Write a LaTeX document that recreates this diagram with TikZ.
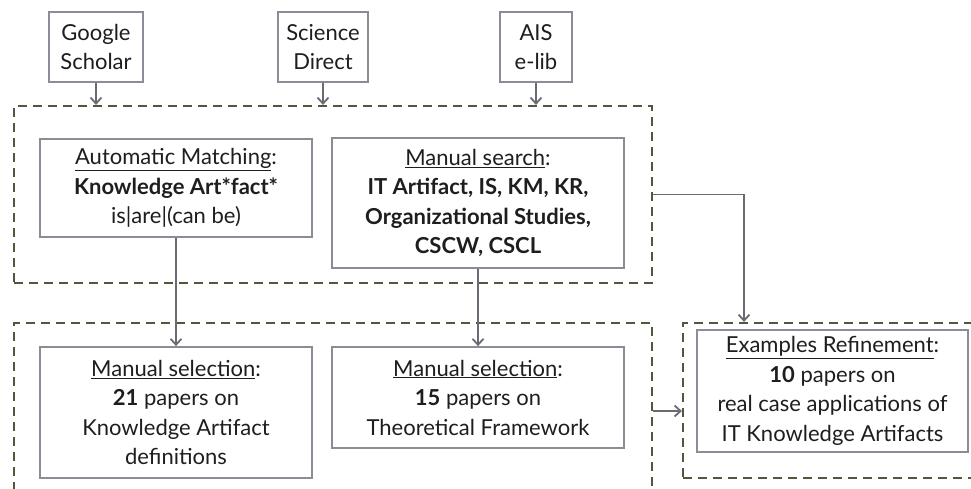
\documentclass[tikz,border=0pt]{standalone}
\usepackage{fontspec}
\setmainfont{Lato}
\usetikzlibrary{arrows.meta}
\definecolor{boxgray}{HTML}{8C8C96}
\definecolor{arrgray}{HTML}{6A6A72}
\definecolor{olive}{HTML}{4B5A3C}
\definecolor{txt}{HTML}{1E1E1E}
\tikzset{
  box/.style={draw=boxgray, line width=1.8pt, fill=white, align=center, text=txt, inner sep=2pt,
    font=\fontsize{22}{29.5}\selectfont},
  grp/.style={draw=olive, line width=2.2pt, dash pattern=on 9pt off 6pt, inner sep=0pt},
  arr/.style={draw=arrgray, line width=1.8pt, -{Straight Barb[length=6pt,width=11pt,line width=1.8pt]}},
  conn/.style={draw=arrgray, line width=1.8pt}
}
\begin{document}
\begin{tikzpicture}[x=1pt,y=-1pt]
\useasboundingbox (0,0) rectangle (971,488);
\clip (0,0) rectangle (971,488);
\fill[white] (0,0) rectangle (971,488);
% groups
\node[grp, minimum width=638pt, minimum height=177pt] (topgrp) at (333,194.5) {};
\node[grp, minimum width=638pt, minimum height=200pt] (botgrp) at (333,423) {};
\node[grp, minimum width=300pt, minimum height=155pt] (rightgrp) at (833,400.5) {};
% sources
\node[box, minimum width=94pt, minimum height=70pt] (gs) at (96,47) {Google\\Scholar};
\node[box, minimum width=90pt, minimum height=70pt] (sd) at (323,47) {Science\\Direct};
\node[box, minimum width=72pt, minimum height=70pt] (ais) at (536,47) {AIS\\e-lib};
% inner boxes
\node[box, minimum width=272pt, minimum height=98pt] (am) at (176,188)
  {\underline{Automatic Matching}:\\\textbf{Knowledge Art*fact*}\\is|are|(can be)};
\node[box, minimum width=292pt, minimum height=130pt] (ms) at (478,203)
  {\underline{Manual search}:\\\textbf{IT Artifact, IS, KM, KR,}\\\textbf{Organizational Studies,}\\\textbf{CSCW, CSCL}};
\node[box, minimum width=272pt, minimum height=131pt] (sel1) at (176,412.5)
  {\underline{Manual selection}:\\\textbf{21} papers on\\Knowledge Artifact\\definitions};
\node[box, minimum width=292pt, minimum height=101pt] (sel2) at (478,397.5)
  {\underline{Manual selection}:\\\textbf{15} papers on\\Theoretical Framework};
\node[box, minimum width=271pt, minimum height=122pt] (ex) at (832.5,391)
  {\underline{Examples Refinement}:\\\textbf{10} papers on\\real case applications of\\IT Knowledge Artifacts};
% connectors
\draw[arr] (gs.south) -- (gs.south |- topgrp.north);
\draw[arr] (sd.south) -- (sd.south |- topgrp.north);
\draw[arr] (ais.south) -- (ais.south |- topgrp.north);
\draw[arr] (am.south) -- (sel1.north);
\draw[arr] (ms.south) -- (sel2.north);
\coordinate (bend) at (744,194.5);
\draw[arr] (topgrp.east) -- (bend) -- (bend |- rightgrp.north);
\coordinate (sa) at (652,411);
\draw[arr] (botgrp.east |- sa) -- (rightgrp.west |- sa);
\end{tikzpicture}
\end{document}
